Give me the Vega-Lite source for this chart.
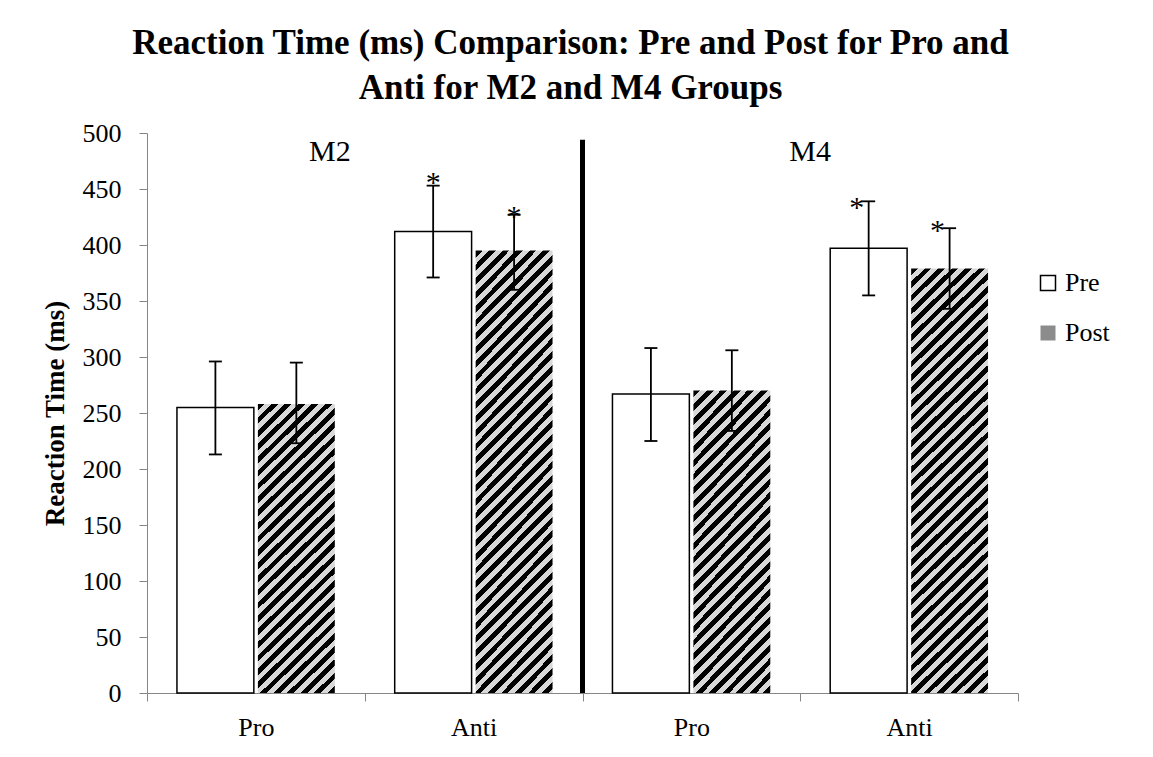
{
  "$schema": "https://vega.github.io/schema/vega-lite/v6.json",
  "width": 871,
  "height": 560,
  "autosize": {"type": "none"},
  "padding": {"left": 147, "top": 133, "right": 135, "bottom": 64},
  "background": "#ffffff",
  "config": {"view": {"stroke": null}},
  "title": {
    "text": ["Reaction Time (ms) Comparison: Pre and Post for Pro and", "Anti for M2 and M4 Groups"],
    "font": "Liberation Serif",
    "fontSize": 35,
    "fontWeight": "bold",
    "lineHeight": 45,
    "anchor": "middle",
    "offset": 14,
    "dx": -12,
    "color": "#000000"
  },
  "data": {
    "values": [
      {"grp": "M2 Pro", "cond": "Pro", "phase": "Pre", "rt": 255, "lo": 213, "hi": 296},
      {"grp": "M2 Pro", "cond": "Pro", "phase": "Post", "rt": 258, "lo": 223, "hi": 295},
      {"grp": "M2 Anti", "cond": "Anti", "phase": "Pre", "rt": 412, "lo": 371, "hi": 453, "star": 461},
      {"grp": "M2 Anti", "cond": "Anti", "phase": "Post", "rt": 395, "lo": 360, "hi": 427, "star": 430},
      {"grp": "M4 Pro", "cond": "Pro", "phase": "Pre", "rt": 267, "lo": 225, "hi": 308},
      {"grp": "M4 Pro", "cond": "Pro", "phase": "Post", "rt": 270, "lo": 234, "hi": 306},
      {"grp": "M4 Anti", "cond": "Anti", "phase": "Pre", "rt": 397, "lo": 355, "hi": 439, "star": 438},
      {"grp": "M4 Anti", "cond": "Anti", "phase": "Post", "rt": 379, "lo": 343, "hi": 415, "star": 418}
    ]
  },
  "layer": [
    {
      "transform": [{"filter": "datum.phase === 'Pre'"}],
      "mark": {"type": "bar", "strokeWidth": 1.5},
      "encoding": {
        "x": {
          "field": "grp", "type": "nominal",
          "sort": ["M2 Pro", "M2 Anti", "M4 Pro", "M4 Anti"],
          "scale": {"domain": ["M2 Pro", "M2 Anti", "M4 Pro", "M4 Anti"], "paddingInner": 0, "paddingOuter": 0},
          "axis": {
            "title": null,
            "labelExpr": "split(datum.value, ' ')[1]",
            "labelAngle": 0,
            "tickBand": "extent",
            "tickSize": 8,
            "domainColor": "#868686",
            "tickColor": "#868686",
            "labelFont": "Liberation Serif",
            "labelFontSize": 26,
            "labelColor": "#000000",
            "labelPadding": 13
          }
        },
        "xOffset": {"field": "phase", "type": "nominal", "scale": {"domain": ["Pre", "Post"], "paddingInner": 0.05, "paddingOuter": 0.37}},
        "y": {
          "field": "rt", "type": "quantitative",
          "scale": {"domain": [0, 500], "nice": false},
          "axis": {
            "title": "Reaction Time (ms)",
            "values": [0, 50, 100, 150, 200, 250, 300, 350, 400, 450, 500],
            "grid": false,
            "domainColor": "#868686",
            "tickColor": "#868686",
            "tickSize": 8,
            "labelFont": "Liberation Serif",
            "labelFontSize": 26,
            "labelColor": "#000000",
            "labelPadding": 18,
            "titleFont": "Liberation Serif",
            "titleFontSize": 27,
            "titleFontWeight": "bold",
            "titleColor": "#000000",
            "titlePadding": 13
          }
        },
        "fill": {
          "field": "phase", "type": "nominal",
          "scale": {"domain": ["Pre", "Post"], "range": ["#ffffff", "#8c8c8c"]},
          "legend": {
            "title": null,
            "orient": "none",
            "legendX": 888,
            "legendY": 137,
            "symbolType": "square",
            "symbolSize": 225,
            "symbolStrokeWidth": 1.5,
            "labelFont": "Liberation Serif",
            "labelFontSize": 26,
            "labelColor": "#000000",
            "labelOffset": 4,
            "rowPadding": 24
          }
        },
        "stroke": {
          "field": "phase", "type": "nominal",
          "scale": {"domain": ["Pre", "Post"], "range": ["#000000", "transparent"]},
          "legend": {
            "title": null,
            "orient": "none",
            "legendX": 888,
            "legendY": 137,
            "symbolType": "square",
            "symbolSize": 225,
            "symbolStrokeWidth": 1.5,
            "labelFont": "Liberation Serif",
            "labelFontSize": 26,
            "labelColor": "#000000",
            "labelOffset": 4,
            "rowPadding": 24
          }
        }
      }
    },
    {
      "transform": [{"filter": "datum.phase === 'Post' && datum.cond === 'Pro'"}],
      "mark": {"type": "bar", "fill": {"gradient": "linear", "x1": 0, "y1": 0, "x2": 0.5591, "y2": 2.1422, "stops": [
        {"offset": 0, "color": "#000"}, {"offset": 0.01, "color": "#000"}, {"offset": 0.01, "color": "#d8d8d8"}, {"offset": 0.02, "color": "#d8d8d8"},
        {"offset": 0.02, "color": "#000"}, {"offset": 0.03, "color": "#000"}, {"offset": 0.03, "color": "#d8d8d8"}, {"offset": 0.04, "color": "#d8d8d8"},
        {"offset": 0.04, "color": "#000"}, {"offset": 0.05, "color": "#000"}, {"offset": 0.05, "color": "#d8d8d8"}, {"offset": 0.06, "color": "#d8d8d8"},
        {"offset": 0.06, "color": "#000"}, {"offset": 0.07, "color": "#000"}, {"offset": 0.07, "color": "#d8d8d8"}, {"offset": 0.08, "color": "#d8d8d8"},
        {"offset": 0.08, "color": "#000"}, {"offset": 0.09, "color": "#000"}, {"offset": 0.09, "color": "#d8d8d8"}, {"offset": 0.1, "color": "#d8d8d8"},
        {"offset": 0.1, "color": "#000"}, {"offset": 0.11, "color": "#000"}, {"offset": 0.11, "color": "#d8d8d8"}, {"offset": 0.12, "color": "#d8d8d8"},
        {"offset": 0.12, "color": "#000"}, {"offset": 0.13, "color": "#000"}, {"offset": 0.13, "color": "#d8d8d8"}, {"offset": 0.14, "color": "#d8d8d8"},
        {"offset": 0.14, "color": "#000"}, {"offset": 0.15, "color": "#000"}, {"offset": 0.15, "color": "#d8d8d8"}, {"offset": 0.16, "color": "#d8d8d8"},
        {"offset": 0.16, "color": "#000"}, {"offset": 0.17, "color": "#000"}, {"offset": 0.17, "color": "#d8d8d8"}, {"offset": 0.18, "color": "#d8d8d8"},
        {"offset": 0.18, "color": "#000"}, {"offset": 0.19, "color": "#000"}, {"offset": 0.19, "color": "#d8d8d8"}, {"offset": 0.2, "color": "#d8d8d8"},
        {"offset": 0.2, "color": "#000"}, {"offset": 0.21, "color": "#000"}, {"offset": 0.21, "color": "#d8d8d8"}, {"offset": 0.22, "color": "#d8d8d8"},
        {"offset": 0.22, "color": "#000"}, {"offset": 0.23, "color": "#000"}, {"offset": 0.23, "color": "#d8d8d8"}, {"offset": 0.24, "color": "#d8d8d8"},
        {"offset": 0.24, "color": "#000"}, {"offset": 0.25, "color": "#000"}, {"offset": 0.25, "color": "#d8d8d8"}, {"offset": 0.26, "color": "#d8d8d8"},
        {"offset": 0.26, "color": "#000"}, {"offset": 0.27, "color": "#000"}, {"offset": 0.27, "color": "#d8d8d8"}, {"offset": 0.28, "color": "#d8d8d8"},
        {"offset": 0.28, "color": "#000"}, {"offset": 0.29, "color": "#000"}, {"offset": 0.29, "color": "#d8d8d8"}, {"offset": 0.3, "color": "#d8d8d8"},
        {"offset": 0.3, "color": "#000"}, {"offset": 0.31, "color": "#000"}, {"offset": 0.31, "color": "#d8d8d8"}, {"offset": 0.32, "color": "#d8d8d8"},
        {"offset": 0.32, "color": "#000"}, {"offset": 0.33, "color": "#000"}, {"offset": 0.33, "color": "#d8d8d8"}, {"offset": 0.34, "color": "#d8d8d8"},
        {"offset": 0.34, "color": "#000"}, {"offset": 0.35, "color": "#000"}, {"offset": 0.35, "color": "#d8d8d8"}, {"offset": 0.36, "color": "#d8d8d8"},
        {"offset": 0.36, "color": "#000"}, {"offset": 0.37, "color": "#000"}, {"offset": 0.37, "color": "#d8d8d8"}, {"offset": 0.38, "color": "#d8d8d8"},
        {"offset": 0.38, "color": "#000"}, {"offset": 0.39, "color": "#000"}, {"offset": 0.39, "color": "#d8d8d8"}, {"offset": 0.4, "color": "#d8d8d8"},
        {"offset": 0.4, "color": "#000"}, {"offset": 0.41, "color": "#000"}, {"offset": 0.41, "color": "#d8d8d8"}, {"offset": 0.42, "color": "#d8d8d8"},
        {"offset": 0.42, "color": "#000"}, {"offset": 0.43, "color": "#000"}, {"offset": 0.43, "color": "#d8d8d8"}, {"offset": 0.44, "color": "#d8d8d8"},
        {"offset": 0.44, "color": "#000"}, {"offset": 0.45, "color": "#000"}, {"offset": 0.45, "color": "#d8d8d8"}, {"offset": 0.46, "color": "#d8d8d8"},
        {"offset": 0.46, "color": "#000"}, {"offset": 0.47, "color": "#000"}, {"offset": 0.47, "color": "#d8d8d8"}, {"offset": 0.48, "color": "#d8d8d8"},
        {"offset": 0.48, "color": "#000"}, {"offset": 0.49, "color": "#000"}, {"offset": 0.49, "color": "#d8d8d8"}, {"offset": 0.5, "color": "#d8d8d8"},
        {"offset": 0.5, "color": "#000"}, {"offset": 0.51, "color": "#000"}, {"offset": 0.51, "color": "#d8d8d8"}, {"offset": 0.52, "color": "#d8d8d8"},
        {"offset": 0.52, "color": "#000"}, {"offset": 0.53, "color": "#000"}, {"offset": 0.53, "color": "#d8d8d8"}, {"offset": 0.54, "color": "#d8d8d8"},
        {"offset": 0.54, "color": "#000"}, {"offset": 0.55, "color": "#000"}, {"offset": 0.55, "color": "#d8d8d8"}, {"offset": 0.56, "color": "#d8d8d8"}
      ]}},
      "encoding": {
        "x": {"field": "grp", "type": "nominal"},
        "xOffset": {"field": "phase", "type": "nominal"},
        "y": {"field": "rt", "type": "quantitative"}
      }
    },
    {
      "transform": [{"filter": "datum.phase === 'Post' && datum.cond === 'Anti'"}],
      "mark": {"type": "bar", "fill": {"gradient": "linear", "x1": 0, "y1": 0, "x2": 0.2681, "y2": 1.5095, "stops": [
        {"offset": 0, "color": "#000"}, {"offset": 0.01, "color": "#000"}, {"offset": 0.01, "color": "#d8d8d8"}, {"offset": 0.02, "color": "#d8d8d8"},
        {"offset": 0.02, "color": "#000"}, {"offset": 0.03, "color": "#000"}, {"offset": 0.03, "color": "#d8d8d8"}, {"offset": 0.04, "color": "#d8d8d8"},
        {"offset": 0.04, "color": "#000"}, {"offset": 0.05, "color": "#000"}, {"offset": 0.05, "color": "#d8d8d8"}, {"offset": 0.06, "color": "#d8d8d8"},
        {"offset": 0.06, "color": "#000"}, {"offset": 0.07, "color": "#000"}, {"offset": 0.07, "color": "#d8d8d8"}, {"offset": 0.08, "color": "#d8d8d8"},
        {"offset": 0.08, "color": "#000"}, {"offset": 0.09, "color": "#000"}, {"offset": 0.09, "color": "#d8d8d8"}, {"offset": 0.1, "color": "#d8d8d8"},
        {"offset": 0.1, "color": "#000"}, {"offset": 0.11, "color": "#000"}, {"offset": 0.11, "color": "#d8d8d8"}, {"offset": 0.12, "color": "#d8d8d8"},
        {"offset": 0.12, "color": "#000"}, {"offset": 0.13, "color": "#000"}, {"offset": 0.13, "color": "#d8d8d8"}, {"offset": 0.14, "color": "#d8d8d8"},
        {"offset": 0.14, "color": "#000"}, {"offset": 0.15, "color": "#000"}, {"offset": 0.15, "color": "#d8d8d8"}, {"offset": 0.16, "color": "#d8d8d8"},
        {"offset": 0.16, "color": "#000"}, {"offset": 0.17, "color": "#000"}, {"offset": 0.17, "color": "#d8d8d8"}, {"offset": 0.18, "color": "#d8d8d8"},
        {"offset": 0.18, "color": "#000"}, {"offset": 0.19, "color": "#000"}, {"offset": 0.19, "color": "#d8d8d8"}, {"offset": 0.2, "color": "#d8d8d8"},
        {"offset": 0.2, "color": "#000"}, {"offset": 0.21, "color": "#000"}, {"offset": 0.21, "color": "#d8d8d8"}, {"offset": 0.22, "color": "#d8d8d8"},
        {"offset": 0.22, "color": "#000"}, {"offset": 0.23, "color": "#000"}, {"offset": 0.23, "color": "#d8d8d8"}, {"offset": 0.24, "color": "#d8d8d8"},
        {"offset": 0.24, "color": "#000"}, {"offset": 0.25, "color": "#000"}, {"offset": 0.25, "color": "#d8d8d8"}, {"offset": 0.26, "color": "#d8d8d8"},
        {"offset": 0.26, "color": "#000"}, {"offset": 0.27, "color": "#000"}, {"offset": 0.27, "color": "#d8d8d8"}, {"offset": 0.28, "color": "#d8d8d8"},
        {"offset": 0.28, "color": "#000"}, {"offset": 0.29, "color": "#000"}, {"offset": 0.29, "color": "#d8d8d8"}, {"offset": 0.3, "color": "#d8d8d8"},
        {"offset": 0.3, "color": "#000"}, {"offset": 0.31, "color": "#000"}, {"offset": 0.31, "color": "#d8d8d8"}, {"offset": 0.32, "color": "#d8d8d8"},
        {"offset": 0.32, "color": "#000"}, {"offset": 0.33, "color": "#000"}, {"offset": 0.33, "color": "#d8d8d8"}, {"offset": 0.34, "color": "#d8d8d8"},
        {"offset": 0.34, "color": "#000"}, {"offset": 0.35, "color": "#000"}, {"offset": 0.35, "color": "#d8d8d8"}, {"offset": 0.36, "color": "#d8d8d8"},
        {"offset": 0.36, "color": "#000"}, {"offset": 0.37, "color": "#000"}, {"offset": 0.37, "color": "#d8d8d8"}, {"offset": 0.38, "color": "#d8d8d8"},
        {"offset": 0.38, "color": "#000"}, {"offset": 0.39, "color": "#000"}, {"offset": 0.39, "color": "#d8d8d8"}, {"offset": 0.4, "color": "#d8d8d8"},
        {"offset": 0.4, "color": "#000"}, {"offset": 0.41, "color": "#000"}, {"offset": 0.41, "color": "#d8d8d8"}, {"offset": 0.42, "color": "#d8d8d8"},
        {"offset": 0.42, "color": "#000"}, {"offset": 0.43, "color": "#000"}, {"offset": 0.43, "color": "#d8d8d8"}, {"offset": 0.44, "color": "#d8d8d8"},
        {"offset": 0.44, "color": "#000"}, {"offset": 0.45, "color": "#000"}, {"offset": 0.45, "color": "#d8d8d8"}, {"offset": 0.46, "color": "#d8d8d8"},
        {"offset": 0.46, "color": "#000"}, {"offset": 0.47, "color": "#000"}, {"offset": 0.47, "color": "#d8d8d8"}, {"offset": 0.48, "color": "#d8d8d8"},
        {"offset": 0.48, "color": "#000"}, {"offset": 0.49, "color": "#000"}, {"offset": 0.49, "color": "#d8d8d8"}, {"offset": 0.5, "color": "#d8d8d8"},
        {"offset": 0.5, "color": "#000"}, {"offset": 0.51, "color": "#000"}, {"offset": 0.51, "color": "#d8d8d8"}, {"offset": 0.52, "color": "#d8d8d8"},
        {"offset": 0.52, "color": "#000"}, {"offset": 0.53, "color": "#000"}, {"offset": 0.53, "color": "#d8d8d8"}, {"offset": 0.54, "color": "#d8d8d8"},
        {"offset": 0.54, "color": "#000"}, {"offset": 0.55, "color": "#000"}, {"offset": 0.55, "color": "#d8d8d8"}, {"offset": 0.56, "color": "#d8d8d8"},
        {"offset": 0.56, "color": "#000"}, {"offset": 0.57, "color": "#000"}, {"offset": 0.57, "color": "#d8d8d8"}, {"offset": 0.58, "color": "#d8d8d8"},
        {"offset": 0.58, "color": "#000"}, {"offset": 0.59, "color": "#000"}, {"offset": 0.59, "color": "#d8d8d8"}, {"offset": 0.6, "color": "#d8d8d8"},
        {"offset": 0.6, "color": "#000"}, {"offset": 0.61, "color": "#000"}, {"offset": 0.61, "color": "#d8d8d8"}, {"offset": 0.62, "color": "#d8d8d8"},
        {"offset": 0.62, "color": "#000"}, {"offset": 0.63, "color": "#000"}, {"offset": 0.63, "color": "#d8d8d8"}, {"offset": 0.64, "color": "#d8d8d8"},
        {"offset": 0.64, "color": "#000"}, {"offset": 0.65, "color": "#000"}, {"offset": 0.65, "color": "#d8d8d8"}, {"offset": 0.66, "color": "#d8d8d8"},
        {"offset": 0.66, "color": "#000"}, {"offset": 0.67, "color": "#000"}, {"offset": 0.67, "color": "#d8d8d8"}, {"offset": 0.68, "color": "#d8d8d8"},
        {"offset": 0.68, "color": "#000"}, {"offset": 0.69, "color": "#000"}, {"offset": 0.69, "color": "#d8d8d8"}, {"offset": 0.7, "color": "#d8d8d8"},
        {"offset": 0.7, "color": "#000"}, {"offset": 0.71, "color": "#000"}, {"offset": 0.71, "color": "#d8d8d8"}, {"offset": 0.72, "color": "#d8d8d8"},
        {"offset": 0.72, "color": "#000"}, {"offset": 0.73, "color": "#000"}, {"offset": 0.73, "color": "#d8d8d8"}, {"offset": 0.74, "color": "#d8d8d8"},
        {"offset": 0.74, "color": "#000"}, {"offset": 0.75, "color": "#000"}, {"offset": 0.75, "color": "#d8d8d8"}, {"offset": 0.76, "color": "#d8d8d8"},
        {"offset": 0.76, "color": "#000"}, {"offset": 0.77, "color": "#000"}, {"offset": 0.77, "color": "#d8d8d8"}, {"offset": 0.78, "color": "#d8d8d8"}
      ]}},
      "encoding": {
        "x": {"field": "grp", "type": "nominal"},
        "xOffset": {"field": "phase", "type": "nominal"},
        "y": {"field": "rt", "type": "quantitative"}
      }
    },
    {
      "mark": {"type": "rule", "stroke": "#000000", "strokeWidth": 1.8},
      "encoding": {
        "x": {"field": "grp", "type": "nominal"},
        "xOffset": {"field": "phase", "type": "nominal"},
        "y": {"field": "lo", "type": "quantitative"},
        "y2": {"field": "hi"}
      }
    },
    {
      "mark": {"type": "tick", "color": "#000000", "thickness": 1.8, "size": 13, "opacity": 1},
      "encoding": {
        "x": {"field": "grp", "type": "nominal"},
        "xOffset": {"field": "phase", "type": "nominal"},
        "y": {"field": "lo", "type": "quantitative"}
      }
    },
    {
      "mark": {"type": "tick", "color": "#000000", "thickness": 1.8, "size": 13, "opacity": 1},
      "encoding": {
        "x": {"field": "grp", "type": "nominal"},
        "xOffset": {"field": "phase", "type": "nominal"},
        "y": {"field": "hi", "type": "quantitative"}
      }
    },
    {
      "transform": [{"filter": "isValid(datum.star) && datum.grp === 'M2 Anti'"}],
      "mark": {"type": "text", "text": "*", "font": "Liberation Serif", "fontSize": 30, "fontWeight": "normal", "baseline": "alphabetic", "dy": 15, "color": "#000000"},
      "encoding": {
        "x": {"field": "grp", "type": "nominal"},
        "xOffset": {"field": "phase", "type": "nominal"},
        "y": {"field": "star", "type": "quantitative"}
      }
    },
    {
      "transform": [{"filter": "isValid(datum.star) && datum.grp === 'M4 Anti'"}],
      "mark": {"type": "text", "text": "*", "font": "Liberation Serif", "fontSize": 30, "fontWeight": "normal", "baseline": "alphabetic", "dy": 15, "dx": -12, "color": "#000000"},
      "encoding": {
        "x": {"field": "grp", "type": "nominal"},
        "xOffset": {"field": "phase", "type": "nominal"},
        "y": {"field": "star", "type": "quantitative"}
      }
    },
    {
      "data": {"values": [{"label": "divider"}]},
      "mark": {"type": "rule", "stroke": "#000000", "strokeWidth": 5},
      "encoding": {
        "x": {"datum": "M4 Pro", "type": "nominal", "bandPosition": 0},
        "y": {"datum": 0, "type": "quantitative"},
        "y2": {"datum": 494}
      }
    },
    {
      "data": {"values": [{"label": "M2"}]},
      "mark": {"type": "text", "font": "Liberation Serif", "fontSize": 30, "fontWeight": "normal", "baseline": "middle", "color": "#000000"},
      "encoding": {
        "text": {"field": "label"},
        "x": {"datum": "M2 Pro", "type": "nominal", "bandPosition": 0.84},
        "y": {"datum": 483, "type": "quantitative"}
      }
    },
    {
      "data": {"values": [{"label": "M4"}]},
      "mark": {"type": "text", "font": "Liberation Serif", "fontSize": 30, "fontWeight": "normal", "baseline": "middle", "color": "#000000"},
      "encoding": {
        "text": {"field": "label"},
        "x": {"datum": "M4 Anti", "type": "nominal", "bandPosition": 0.045},
        "y": {"datum": 483, "type": "quantitative"}
      }
    }
  ]
}
